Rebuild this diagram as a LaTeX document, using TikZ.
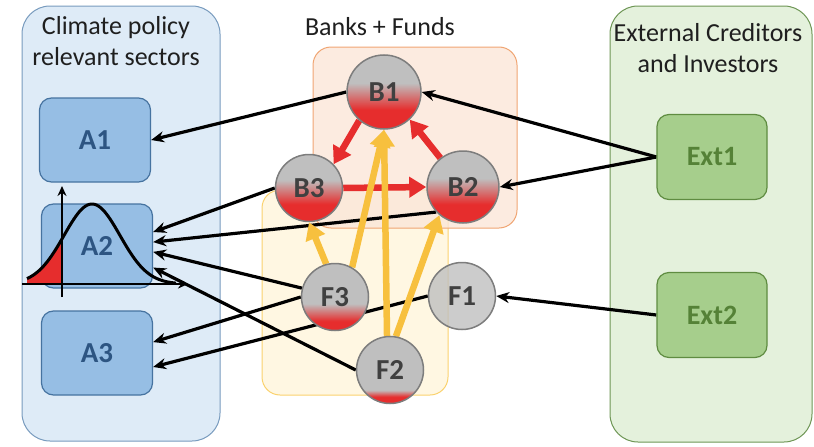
\documentclass[tikz,border=0pt]{standalone}
\usepackage{fontspec}
\setmainfont{Carlito}
\usetikzlibrary{arrows.meta, positioning}

\definecolor{sectorbg}{RGB}{222,235,247}
\definecolor{sectorframe}{RGB}{120,155,190}
\definecolor{sectorbox}{RGB}{150,190,228}
\definecolor{sectorline}{RGB}{70,115,160}
\definecolor{sectortext}{RGB}{45,85,130}
\definecolor{bankbg}{RGB}{251,230,216}
\definecolor{bankframe}{RGB}{240,165,115}
\definecolor{fundbg}{RGB}{255,247,226}
\definecolor{fundframe}{RGB}{250,210,110}
\definecolor{extbg}{RGB}{228,241,220}
\definecolor{extframe}{RGB}{110,150,85}
\definecolor{extbox}{RGB}{166,206,140}
\definecolor{extline}{RGB}{95,140,65}
\definecolor{exttext}{RGB}{85,130,55}
\definecolor{nodegray}{RGB}{191,191,191}
\definecolor{nodeline}{RGB}{125,125,125}
\definecolor{riskred}{RGB}{230,45,45}
\definecolor{fundyellow}{RGB}{247,192,62}

\pgfdeclarelayer{panels}
\pgfdeclarelayer{links}
\pgfsetlayers{panels,links,main}

% red share at the bottom of the institutions
\pgfdeclareverticalshading{bankshade}{100bp}{color(0bp)=(riskred); color(38bp)=(riskred); color(56bp)=(nodegray); color(100bp)=(nodegray)}
\pgfdeclareverticalshading{fundshadeA}{100bp}{color(0bp)=(riskred); color(32bp)=(riskred); color(45bp)=(nodegray); color(100bp)=(nodegray)}
\pgfdeclareverticalshading{fundshadeB}{100bp}{color(0bp)=(riskred); color(30bp)=(riskred); color(35bp)=(nodegray); color(100bp)=(nodegray)}

\begin{document}
\begin{tikzpicture}[
    x=1pt, y=-1pt,
    every node/.style={font=\fontsize{26}{31}\selectfont},
    title/.style={text=black!88, align=center},
    panel/.style={line width=1pt, rounded corners=28pt},
    group/.style={line width=1pt, rounded corners=18pt},
    sector/.style={draw=sectorline, fill=sectorbox, line width=1.2pt, rounded corners=12pt,
        minimum width=111pt, minimum height=84pt, text=sectortext, font=\fontsize{29}{31}\selectfont\bfseries},
    ext/.style={draw=extline, fill=extbox, line width=1.2pt, rounded corners=12pt,
        minimum width=110pt, minimum height=85pt, text=exttext, font=\fontsize{28}{31}\selectfont\bfseries},
    inst/.style={circle, draw=nodeline, line width=1.5pt, inner sep=0pt, text=black!75,
        font=\fontsize{29}{31}\selectfont\bfseries},
    arrow/.style={-{Stealth[length=13pt, width=11pt]}, line width=3.2pt},
    riskarrow/.style={-{Triangle[length=17pt, width=20pt]}, line width=6.5pt, draw=riskred},
    fundarrow/.style={-{Triangle[length=17pt, width=20pt]}, line width=6.5pt, draw=fundyellow}
]
    \useasboundingbox (0,0) rectangle (814,447);

    \begin{pgfonlayer}{panels}
        \draw [panel, draw=sectorframe, fill=sectorbg] (22,6) rectangle (220,441);
        \draw [panel, draw=extframe, fill=extbg] (610,6) rectangle (812,442);
        \draw [group, draw=fundframe, fill=fundbg] (262,190) rectangle (448,395);
        \draw [group, draw=bankframe, fill=bankbg, fill opacity=0.8] (313,47) rectangle (517,228);
    \end{pgfonlayer}

    \node (sectitle) [title] at (116,41) {Climate policy\\relevant sectors};
    \node (bftitle) [title, anchor=base] at (380,35) {Banks + Funds};
    \node (exttitle) [title] at (708,48) {External Creditors\\and Investors};

    \node (A1) [sector] at (95,140) {A1};
    \node (A2) [sector] at (97,246) {A2};
    \node (A3) [sector] at (97,353) {A3};
    \node (Ext1) [ext] at (712,157) {Ext1};
    \node (Ext2) [ext] at (712,315) {Ext2};

    \node (B1) [inst, minimum size=74pt, shading=bankshade] at (384,92) {B1};
    \node (B2) [inst, minimum size=72pt, shading=bankshade] at (463,187) {B2};
    \node (B3) [inst, minimum size=67pt, shading=bankshade] at (309,188) {B3};
    \node (F3) [inst, minimum size=67pt, shading=fundshadeA] at (335,297) {F3};
    \node (F2) [inst, minimum size=67pt, shading=fundshadeB] at (390,370) {F2};
    \node (F1) [inst, minimum size=67pt, fill=nodegray, fill opacity=0.8, text opacity=1] at (462,296) {F1};

    % loss distribution on top of A2
    \fill [riskred] plot [domain=27:62, samples=30, smooth] (\x, {284-80*exp(-((\x-92)^2)/1568)}) -- (62,284) -- (27,284) -- cycle;
    \draw [line width=2pt, -{Stealth[length=10pt, width=9pt]}] (22,284) -- (188,284);
    \draw [line width=2pt, -{Stealth[length=10pt, width=9pt]}] (62,297) -- (62,186);
    \draw [line width=3pt] plot [domain=27:176, samples=80, smooth] (\x, {284-80*exp(-((\x-92)^2)/1568)});

    \begin{pgfonlayer}{links}
        \draw [arrow] (Ext1.west) -- (B1.east);
        \draw [arrow] (Ext1.west) -- (B2.east);
        \draw [arrow] (Ext2.west) -- (F1.east);
        \draw [arrow] (B1.west) -- (A1.east);
        \draw [arrow] (B3.west) -- (A2.14);
        \draw [arrow] (B2.223) -- (A2.4);
        \draw [arrow] (F3.165) -- (A2.-6);
        \draw [arrow] (F2.west) -- (A2.-21);
        \draw [arrow] (F3.west) -- (A3.11);
        \draw [arrow] (F1.west) -- (A3.-14);

        \draw [riskarrow] (B1.229) -- (B3.44);
        \draw [riskarrow] (B2.128) -- (B1.313);
        \draw [riskarrow] (B3.east) -- (B2.west);

        \draw [fundarrow] (F3.105) -- (B3.south);
        \draw [fundarrow] (F3.60) -- (B1.south);
        \draw [fundarrow] (F2.95) -- (B1.south);
        \draw [fundarrow] (F2.80) -- (B2.230);
    \end{pgfonlayer}
\end{tikzpicture}
\end{document}
